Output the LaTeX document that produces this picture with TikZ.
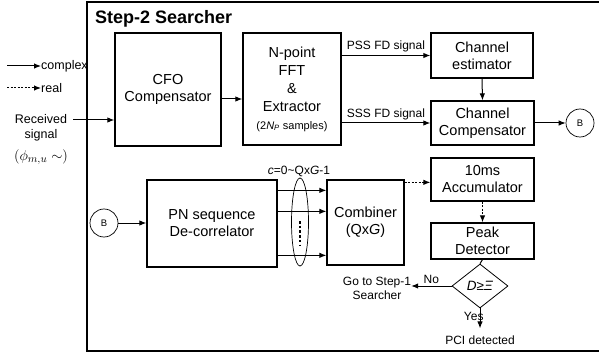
\documentclass[tikz,border=0pt]{standalone}
\usepackage{fontspec}
\setmainfont{Liberation Sans}
\usepackage{tikz}
\usetikzlibrary{arrows.meta,%
                shapes.geometric,%
                positioning}

\begin{document}
\begin{tikzpicture}[x=1pt,y=-1pt,
	box/.style={draw,line width=1.3pt,align=center,inner sep=0pt,font=\fontsize{14.5}{17}\selectfont},
	conn/.style={draw,circle,line width=0.7pt,minimum size=28pt,inner sep=0pt,font=\fontsize{9.5}{10}\selectfont},
	lbl/.style={inner sep=0pt,align=center,font=\fontsize{12}{13}\selectfont},
	post/.style={-{Latex[length=7pt,width=5.5pt]},line width=1pt},
	dpost/.style={post,dash pattern=on 2pt off 1.5pt}]
		\useasboundingbox (0,0) rectangle (599,358);
		%\draw[help lines,step=10] (0,0) grid (599,358);
		\draw[line width=1.5pt] (602,2) -| (87,351) -- (602,351);
		\node[anchor=west,inner sep=0pt,font=\fontsize{18}{20}\selectfont\bfseries] (title) at (95,19) {Step-2 Searcher};
		% legend
		\node[lbl,anchor=west,font=\fontsize{12.5}{14}\selectfont] (cplx) at (41,66) {complex};
		\node[lbl,anchor=west,font=\fontsize{12.5}{14}\selectfont] (real) at (41,88) {real};
		\coordinate (cplxin) at (7,66);
		\coordinate (realin) at (7,88);
		\draw[post] (cplxin) -- (cplx.west);
		\draw[dpost] (realin) -- (real.west);
		% input
		\node[lbl,font=\fontsize{12.5}{15.5}\selectfont] (rx) at (41,128) {Received\\signal};
		\node[lbl,font=\fontsize{15}{17}\selectfont] (phi) at (41,157) {$(\phi_{m,u}\;{\sim})$};
		\coordinate (rxout) at (73,120);
		% blocks
		\node[box,minimum width=106pt,minimum height=113pt] (cfo) at (168,89.5) {CFO\\Compensator};
		\node[box,minimum width=98pt,minimum height=112pt,font=\fontsize{14.5}{18}\selectfont] (fft) at (292,89) {N-point\\FFT\\\&\\Extractor\\{\fontsize{11}{12}\selectfont(2\textit{N}\textsubscript{\textit{P}} samples)}};
		\node[box,minimum width=102pt,minimum height=45pt] (est) at (482,55.5) {Channel\\estimator};
		\node[box,minimum width=103pt,minimum height=44pt] (comp) at (482.5,123) {Channel\\Compensator};
		\node[conn] (bR) at (580,123) {B};
		{
			\tikzset{box/.append style={minimum width=103pt}}
			\node[box,minimum height=43pt] (acc) at (482.5,179.5) {10ms\\Accumulator};
			\node[box,minimum height=36pt] (peak) at (482.5,241) {Peak\\Detector};
		}
		\node[draw,diamond,line width=0.8pt,minimum width=56pt,minimum height=44pt,inner sep=0pt,font=\fontsize{13.5}{15}\selectfont] (dec) at (480,286) {\textit{D}≥\textit{Ξ}};
		\node[lbl,font=\fontsize{12}{14}\selectfont] (go) at (377,288) {Go to Step-1\\Searcher};
		\node[lbl,font=\fontsize{12}{14}\selectfont] (pci) at (480,340) {PCI detected};
		\node[conn] (bL) at (104,223) {B};
		\node[box,minimum width=130pt,minimum height=87pt] (pn) at (212,223.5) {PN sequence\\De-correlator};
		\node[box,minimum width=77pt,minimum height=85pt] (comb) at (365.5,222.5) {Combiner\\(Qx\textit{G})};
		\node[draw,ellipse,line width=0.7pt,minimum width=17pt,minimum height=88pt,inner sep=0pt] (grp) at (300,222) {};
		\node[lbl] (cidx) at (299,171) {\textit{c}=0\textasciitilde Qx\textit{G}-1};
		% connectors
		\draw[post] (rxout) -- (cfo.west |- rxout);
		\draw[post] ([yshift=-9.5pt]cfo.east) -- ([yshift=-9.5pt]cfo.east -| fft.west);
		\draw[post] (fft.east |- est) -- node[lbl,above=3pt] {PSS FD signal} (est.west);
		\draw[post] (fft.east |- comp) -- node[lbl,above=3pt] {SSS FD signal} (comp.west);
		\draw[post] (est.south) -- (comp.north);
		\draw[post] (comp.east) -- (bR.west);
		\draw[post] (bL.east) -- (pn.west |- bL);
		\draw[post] ([yshift=-11pt]pn.north east) -- ([yshift=-11pt]comb.north west);
		\draw[post] ([yshift=-32pt]pn.north east) -- ([yshift=-32pt]comb.north west);
		\draw[post] ([yshift=-76pt]pn.north east) -- ([yshift=-76pt]comb.north west);
		\draw[line width=2.5pt,dash pattern=on 2.5pt off 2.2pt] ([yshift=1pt]grp.center) -- ([yshift=-24pt]grp.center);
		\draw[dpost] ([yshift=-3pt]comb.north east) -- ([yshift=-3pt]comb.north east -| acc.west);
		\draw[dpost] (acc.south) -- (peak.north);
		\draw[line width=1pt] (peak.south) -- (dec.north);
		\draw[post] (dec.west) -- node[lbl,above=2pt] {No} (go.east |- dec);
		\draw[post] (dec.south) -- node[lbl,left=-4pt,pos=0.4] {Yes} ([yshift=7pt]pci.north);
\end{tikzpicture}
\end{document}
